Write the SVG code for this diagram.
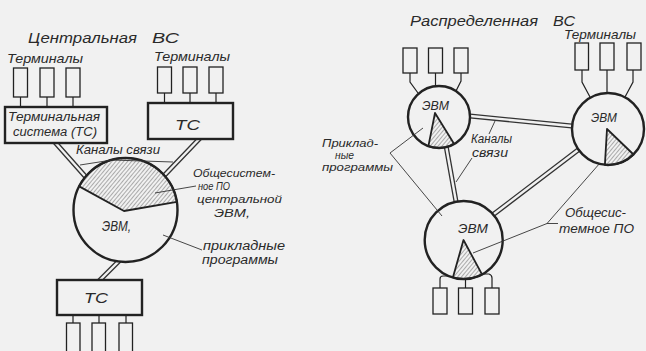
<svg xmlns="http://www.w3.org/2000/svg" width="646" height="351" viewBox="0 0 646 351">
<defs>
<pattern id="hatch" patternUnits="userSpaceOnUse" width="3" height="3" patternTransform="rotate(40)">
<line x1="0" y1="0" x2="0" y2="3" stroke="#555" stroke-width="0.9"/>
</pattern>
<style>
.bg{fill:#f1f1f1}
.t{font-family:"Liberation Sans","DejaVu Sans",sans-serif;font-style:italic;fill:#2a2a2a}
.s13{font-size:13px}
.s14{font-size:14px}
.s12{font-size:12px}
.s11{font-size:11px}
.box{fill:#f1f1f1;stroke:#222;stroke-width:2.4}
.term{fill:#f1f1f1;stroke:#222;stroke-width:1.3}
.node{fill:#f1f1f1;stroke:#222;stroke-width:2.4}
.hat{fill:url(#hatch);stroke:#222;stroke-width:1.8;stroke-linejoin:round}
.dblo{stroke:#333;stroke-width:5;fill:none}
.dbli{stroke:#f1f1f1;stroke-width:2.4;fill:none}
.stem{stroke:#222;stroke-width:1.2;fill:none}
.lead{stroke:#333;stroke-width:0.9;fill:none}
</style>
</defs>
<rect class="bg" x="0" y="0" width="646" height="351"/>

<g id="connectors">
<path class="dblo" d="M53,140 L92,184 M203,135 L158,182 M122,258 L95,285 M460,115 L582,127 M445,140 L457,207 M582,147 L490,217"/>
<path class="dbli" d="M53,140 L92,184 M203,135 L158,182 M122,258 L95,285 M460,115 L582,127 M445,140 L457,207 M582,147 L490,217"/>
<path class="stem" d="M20.5,97 V108 M47,97 V108 M73,97 V108"/>
<path class="stem" d="M164.5,93 V104 M190,93 V104 M216,93 V104"/>
<path class="stem" d="M73,314 V323 M99,314 V323 M126,314 V323"/>
<path class="stem" d="M410,73 V82 L418,93 M435.5,73 V88 M461,73 V81 L456,91"/>
<path class="stem" d="M582,70 V82 L590,97 M607,70 V94 M633,70 V82 L625,97"/>
<path class="stem" d="M453,276 H443 Q440,276 440,279 V288 M465.5,278 V288 M482,274 H489 Q492,275 492,278 V288"/>
</g>

<g id="ts-left">
<rect class="box" x="5" y="107" width="102" height="36"/>
<text class="t s12" x="8" y="121" textLength="92" lengthAdjust="spacingAndGlyphs">Терминальная</text>
<text class="t s12" x="13" y="136" textLength="84" lengthAdjust="spacingAndGlyphs">система (ТС)</text>
</g>
<g id="terms-left">
<rect class="term" x="13.5" y="68" width="14" height="29"/>
<rect class="term" x="40" y="68" width="14" height="29"/>
<rect class="term" x="66" y="68" width="14" height="29"/>
</g>
<g id="tc-right">
<rect class="box" x="148" y="103" width="85" height="36"/>
<text class="t s14" x="175" y="130" textLength="25" lengthAdjust="spacingAndGlyphs">ТС</text>
</g>
<g id="terms-mid">
<rect class="term" x="157.5" y="67" width="14" height="26"/>
<rect class="term" x="183" y="67" width="14" height="26"/>
<rect class="term" x="209" y="67" width="14" height="26"/>
</g>
<g id="evm-central">
<circle class="node" cx="125.5" cy="210" r="52"/>
<path class="hat" d="M124,211 L79.2,186.4 A52,52 0 0 1 176.9,201.9 Z"/>
<text class="t s14" x="102" y="231" textLength="29" lengthAdjust="spacingAndGlyphs">ЭВМ,</text>
</g>
<g id="tc-bottom">
<rect class="box" x="57" y="280" width="85" height="35"/>
<text class="t s14" x="84" y="303" textLength="24" lengthAdjust="spacingAndGlyphs">ТС</text>
</g>
<g id="terms-bottom">
<rect class="term" x="66.5" y="323" width="13.5" height="30"/>
<rect class="term" x="92" y="323" width="13.5" height="30"/>
<rect class="term" x="119" y="323" width="13.5" height="30"/>
</g>

<g id="evm-a">
<circle class="node" cx="439" cy="117" r="31"/>
<path class="hat" d="M435,113 L454,143.7 A31,31 0 0 1 428.4,146.1 Z"/>
<text class="t s13" x="422" y="110" textLength="27" lengthAdjust="spacingAndGlyphs">ЭВМ</text>
</g>
<g id="terms-a">
<rect class="term" x="403" y="48" width="14" height="25"/>
<rect class="term" x="428.5" y="48" width="14" height="25"/>
<rect class="term" x="454" y="48" width="14" height="25"/>
</g>
<g id="evm-b">
<circle class="node" cx="608" cy="129" r="36"/>
<path class="hat" d="M607,129 L633.5,154.5 A36,36 0 0 1 604.9,164.9 Z"/>
<text class="t s13" x="591" y="122" textLength="26" lengthAdjust="spacingAndGlyphs">ЭВМ</text>
</g>
<g id="terms-b">
<rect class="term" x="575" y="43" width="13.5" height="27"/>
<rect class="term" x="600" y="43" width="14" height="27"/>
<rect class="term" x="627" y="43" width="14" height="27"/>
</g>
<g id="evm-c">
<circle class="node" cx="463.7" cy="240" r="39"/>
<path class="hat" d="M463.5,240 L482,274.4 A39,39 0 0 1 452.9,277.5 Z"/>
<text class="t s13" x="458" y="233" textLength="30" lengthAdjust="spacingAndGlyphs">ЭВМ</text>
</g>
<g id="terms-c">
<rect class="term" x="433" y="288" width="14" height="26"/>
<rect class="term" x="458.5" y="288" width="14" height="26"/>
<rect class="term" x="485" y="288" width="14" height="26"/>
</g>

<g id="leaders">
<path class="lead" d="M80,165 L112,160 L173,162"/>
<path class="lead" d="M196,186 L155,193"/>
<path class="lead" d="M163,235 L202,250"/>
<path class="lead" d="M495,121 L489,134"/>
<path class="lead" d="M472,158 L456,182"/>
<path class="lead" d="M423,128 L390,153 L442,216"/>
<path class="lead" d="M600,163 L547,223.5 L558,223.5 M547,223.5 L473,253"/>
</g>

<g id="labels">
<text class="t s14" x="28" y="43" textLength="109" lengthAdjust="spacingAndGlyphs">Центральная</text>
<text class="t s14" x="152" y="43" textLength="27" lengthAdjust="spacingAndGlyphs">ВС</text>
<text class="t s13" x="7" y="63" textLength="76" lengthAdjust="spacingAndGlyphs">Терминалы</text>
<text class="t s13" x="154" y="61" textLength="76" lengthAdjust="spacingAndGlyphs">Терминалы</text>
<text class="t s12" x="76" y="154" textLength="84" lengthAdjust="spacingAndGlyphs">Каналы связи</text>
<text class="t s11" x="193" y="177" textLength="82" lengthAdjust="spacingAndGlyphs">Общесистем-</text>
<text class="t s11" x="198" y="190" textLength="32" lengthAdjust="spacingAndGlyphs">ное ПО</text>
<text class="t s11" x="197" y="203" textLength="85" lengthAdjust="spacingAndGlyphs">центральной</text>
<text class="t s11" x="214" y="217" textLength="36" lengthAdjust="spacingAndGlyphs">ЭВМ,</text>
<text class="t s12" x="203" y="250" textLength="82" lengthAdjust="spacingAndGlyphs">прикладные</text>
<text class="t s12" x="202" y="264" textLength="76" lengthAdjust="spacingAndGlyphs">программы</text>
<text class="t s14" x="410" y="26" textLength="128" lengthAdjust="spacingAndGlyphs">Распределенная</text>
<text class="t s14" x="553" y="26" textLength="22" lengthAdjust="spacingAndGlyphs">ВС</text>
<text class="t s13" x="564" y="39" textLength="72" lengthAdjust="spacingAndGlyphs">Терминалы</text>
<text class="t s12" x="471" y="143" textLength="41" lengthAdjust="spacingAndGlyphs">Каналы</text>
<text class="t s12" x="472" y="157" textLength="36" lengthAdjust="spacingAndGlyphs">связи</text>
<text class="t s11" x="322" y="147" textLength="56" lengthAdjust="spacingAndGlyphs">Приклад-</text>
<text class="t s11" x="335" y="159" textLength="19" lengthAdjust="spacingAndGlyphs">ные</text>
<text class="t s11" x="322" y="171" textLength="71" lengthAdjust="spacingAndGlyphs">программы</text>
<text class="t s12" x="565" y="217" textLength="61" lengthAdjust="spacingAndGlyphs">Общесис-</text>
<text class="t s12" x="559" y="233" textLength="75" lengthAdjust="spacingAndGlyphs">темное ПО</text>
</g>
</svg>
